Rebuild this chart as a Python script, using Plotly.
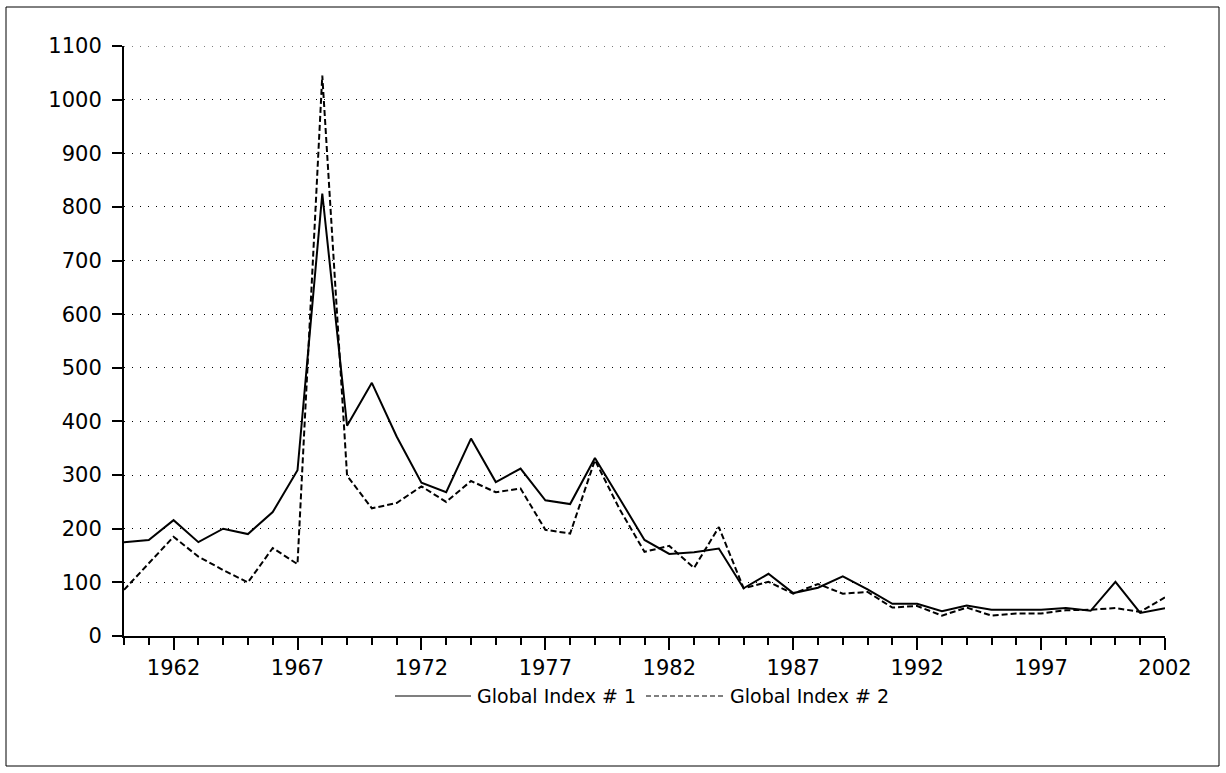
import plotly.graph_objects as go

# Annual observations, 1960-2002
years = list(range(1960, 2003))
global_index_1 = [175, 179, 216, 175, 200, 190, 231, 309, 825, 392,
                  472, 372, 286, 268, 368, 287, 312, 253, 246, 332,
                  256, 179, 153, 156, 163, 89, 116, 80, 90, 111,
                  87, 60, 60, 46, 57, 49, 49, 49, 52, 47,
                  101, 43, 52]
global_index_2 = [86, 136, 185, 148, 123, 100, 164, 134, 1045, 299,
                  238, 248, 279, 250, 289, 268, 275, 198, 191, 328,
                  236, 157, 168, 127, 203, 89, 101, 79, 97, 79,
                  82, 53, 56, 38, 53, 38, 42, 42, 48, 49,
                  52, 45, 72]
series_names = ["Global Index # 1", "Global Index # 2"]
x_tick_years = [1962, 1967, 1972, 1977, 1982, 1987, 1992, 1997, 2002]
y_ticks = list(range(0, 1101, 100))

FONT = "DejaVu Sans"
W, H = 1226, 773
L, R, T, B = 124, 61, 46, 137
PW, PH = W - L - R, H - T - B
GRID_DASH = "1px,7px"


def px_to_paper(px, py):
    return (px - L) / PW, (H - B - py) / PH


fig = go.Figure()
fig.add_trace(go.Scatter(x=years, y=global_index_1, mode="lines",
                         name=series_names[0], showlegend=False,
                         line=dict(color="black", width=2)))
fig.add_trace(go.Scatter(x=years, y=global_index_2, mode="lines",
                         name=series_names[1], showlegend=False,
                         line=dict(color="black", width=2, dash="6px,3px")))

fig.update_layout(
    width=W, height=H,
    margin=dict(l=L, r=R, t=T, b=B, pad=0),
    paper_bgcolor="white", plot_bgcolor="white",
    font=dict(family=FONT, color="black"),
    xaxis=dict(range=[1960, 2002], tickvals=x_tick_years,
               ticks="outside", ticklen=12, tickwidth=2, tickcolor="black",
               showline=True, linecolor="black", linewidth=2,
               showgrid=False, zeroline=False,
               tickfont=dict(size=21, family=FONT),
               minor=dict(ticks="outside", dtick=1, tick0=1960,
                          ticklen=7, tickwidth=2, tickcolor="black",
                          showgrid=False)),
    yaxis=dict(range=[0, 1100], tickvals=y_ticks,
               ticks="outside", ticklen=10, tickwidth=1.5, tickcolor="black",
               showline=True, linecolor="black", linewidth=2,
               showgrid=True, gridcolor="black", gridwidth=1,
               griddash=GRID_DASH, zeroline=False,
               ticklabelstandoff=6,
               tickfont=dict(size=21, family=FONT)),
)

# Dotted grid line along the top of the value range
fig.add_shape(type="line", xref="paper", yref="y",
              x0=0, x1=1, y0=1100, y1=1100,
              line=dict(color="black", width=1, dash=GRID_DASH))

# Outer frame
x0, y0 = px_to_paper(6, 7)
x1, y1 = px_to_paper(1219, 766)
fig.add_shape(type="rect", xref="paper", yref="paper",
              x0=x0, y0=y1, x1=x1, y1=y0,
              line=dict(color="black", width=1), layer="below")

# Legend drawn below the plot
ly = 696
_, ly_p = px_to_paper(0, ly)
legend_items = [
    (395, 471, 475, dict(color="black", width=1.2)),
    (646, 724, 728, dict(color="black", width=1.2, dash="5px,3px")),
]
for (sx0, sx1, tx, line_style), name in zip(legend_items, series_names):
    a, _ = px_to_paper(sx0, ly)
    b, _ = px_to_paper(sx1, ly)
    t, _ = px_to_paper(tx, ly)
    fig.add_shape(type="line", xref="paper", yref="paper",
                  x0=a, x1=b, y0=ly_p, y1=ly_p, line=line_style)
    fig.add_annotation(xref="paper", yref="paper", x=t, y=ly_p,
                       text=name, showarrow=False,
                       xanchor="left", yanchor="middle",
                       font=dict(size=19, family=FONT))

fig.write_html("out.html")
